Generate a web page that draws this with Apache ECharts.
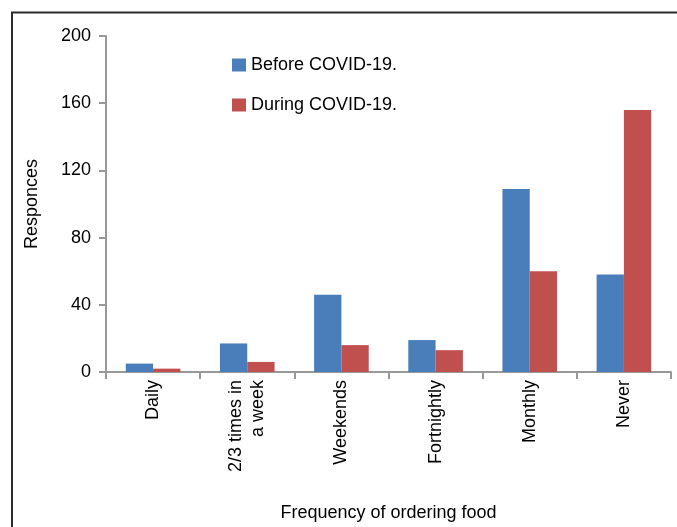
<!DOCTYPE html>
<html>
<head>
<meta charset="utf-8">
<script src="https://cdn.jsdelivr.net/npm/echarts@6/dist/echarts.min.js"></script>
<style>
  html, body { margin: 0; padding: 0; background: #fff; overflow: hidden; }
  #chart { width: 677px; height: 527px; }
</style>
</head>
<body>
<div id="chart"></div>
<script>
// Frequency categories on the x axis
const categories = ['Daily', '2/3 times in\na week', 'Weekends', 'Fortnightly', 'Monthly', 'Never'];
// Number of responses per category
const beforeCovid = [5, 17, 46, 19, 109, 58];
const duringCovid = [2, 6, 16, 13, 60, 156];
// Y axis range
const yMin = 0, yMax = 200, yStep = 40;

const font = 'Arial, "Liberation Sans", sans-serif';
const chart = echarts.init(document.getElementById('chart'));

chart.setOption({
  animation: false,
  backgroundColor: '#fff',
  textStyle: { fontFamily: font },
  graphic: [{
    type: 'rect',
    shape: { x: 12, y: 12.5, width: 700, height: 560 },
    style: { fill: 'none', stroke: '#2b2b2b', lineWidth: 2 },
    silent: true
  }],
  grid: { left: 106, right: 6, top: 36, bottom: 155, containLabel: false, outerBoundsMode: 'none' },
  legend: {
    orient: 'vertical',
    left: 232,
    top: 56,
    padding: 0,
    itemWidth: 14,
    itemHeight: 13,
    itemGap: 22,
    icon: 'rect',
    textStyle: { fontSize: 18, color: '#000', fontFamily: font },
    data: ['Before COVID-19.', 'During COVID-19.']
  },
  xAxis: {
    type: 'category',
    data: categories,
    name: 'Frequency of ordering food',
    nameLocation: 'middle',
    nameGap: 132,
    nameTextStyle: { fontSize: 18, color: '#000', fontFamily: font },
    axisLine: { lineStyle: { color: '#999', width: 2 } },
    axisTick: { show: true, length: 7, lineStyle: { color: '#999', width: 2 } },
    axisLabel: {
      rotate: 90,
      fontSize: 18,
      color: '#000',
      margin: 8,
      lineHeight: 22,
      padding: [7, 0, 0, 0],
      fontFamily: font
    }
  },
  yAxis: {
    type: 'value',
    min: yMin,
    max: yMax,
    interval: yStep,
    name: 'Responces',
    nameLocation: 'middle',
    nameGap: 65,
    nameRotate: 90,
    nameTextStyle: { fontSize: 18, color: '#000', fontFamily: font },
    axisLine: { show: true, lineStyle: { color: '#999', width: 2 } },
    axisTick: { show: true, length: 7, lineStyle: { color: '#999', width: 2 } },
    axisLabel: { fontSize: 18, color: '#000', margin: 15, fontFamily: font },
    splitLine: { show: false }
  },
  series: [
    {
      name: 'Before COVID-19.',
      type: 'bar',
      data: beforeCovid,
      itemStyle: { color: '#4a7ebb' },
      barGap: '0%',
      barCategoryGap: '42%'
    },
    {
      name: 'During COVID-19.',
      type: 'bar',
      data: duringCovid,
      itemStyle: { color: '#c0504d' },
      barGap: '0%',
      barCategoryGap: '42%'
    }
  ]
});
</script>
</body>
</html>
